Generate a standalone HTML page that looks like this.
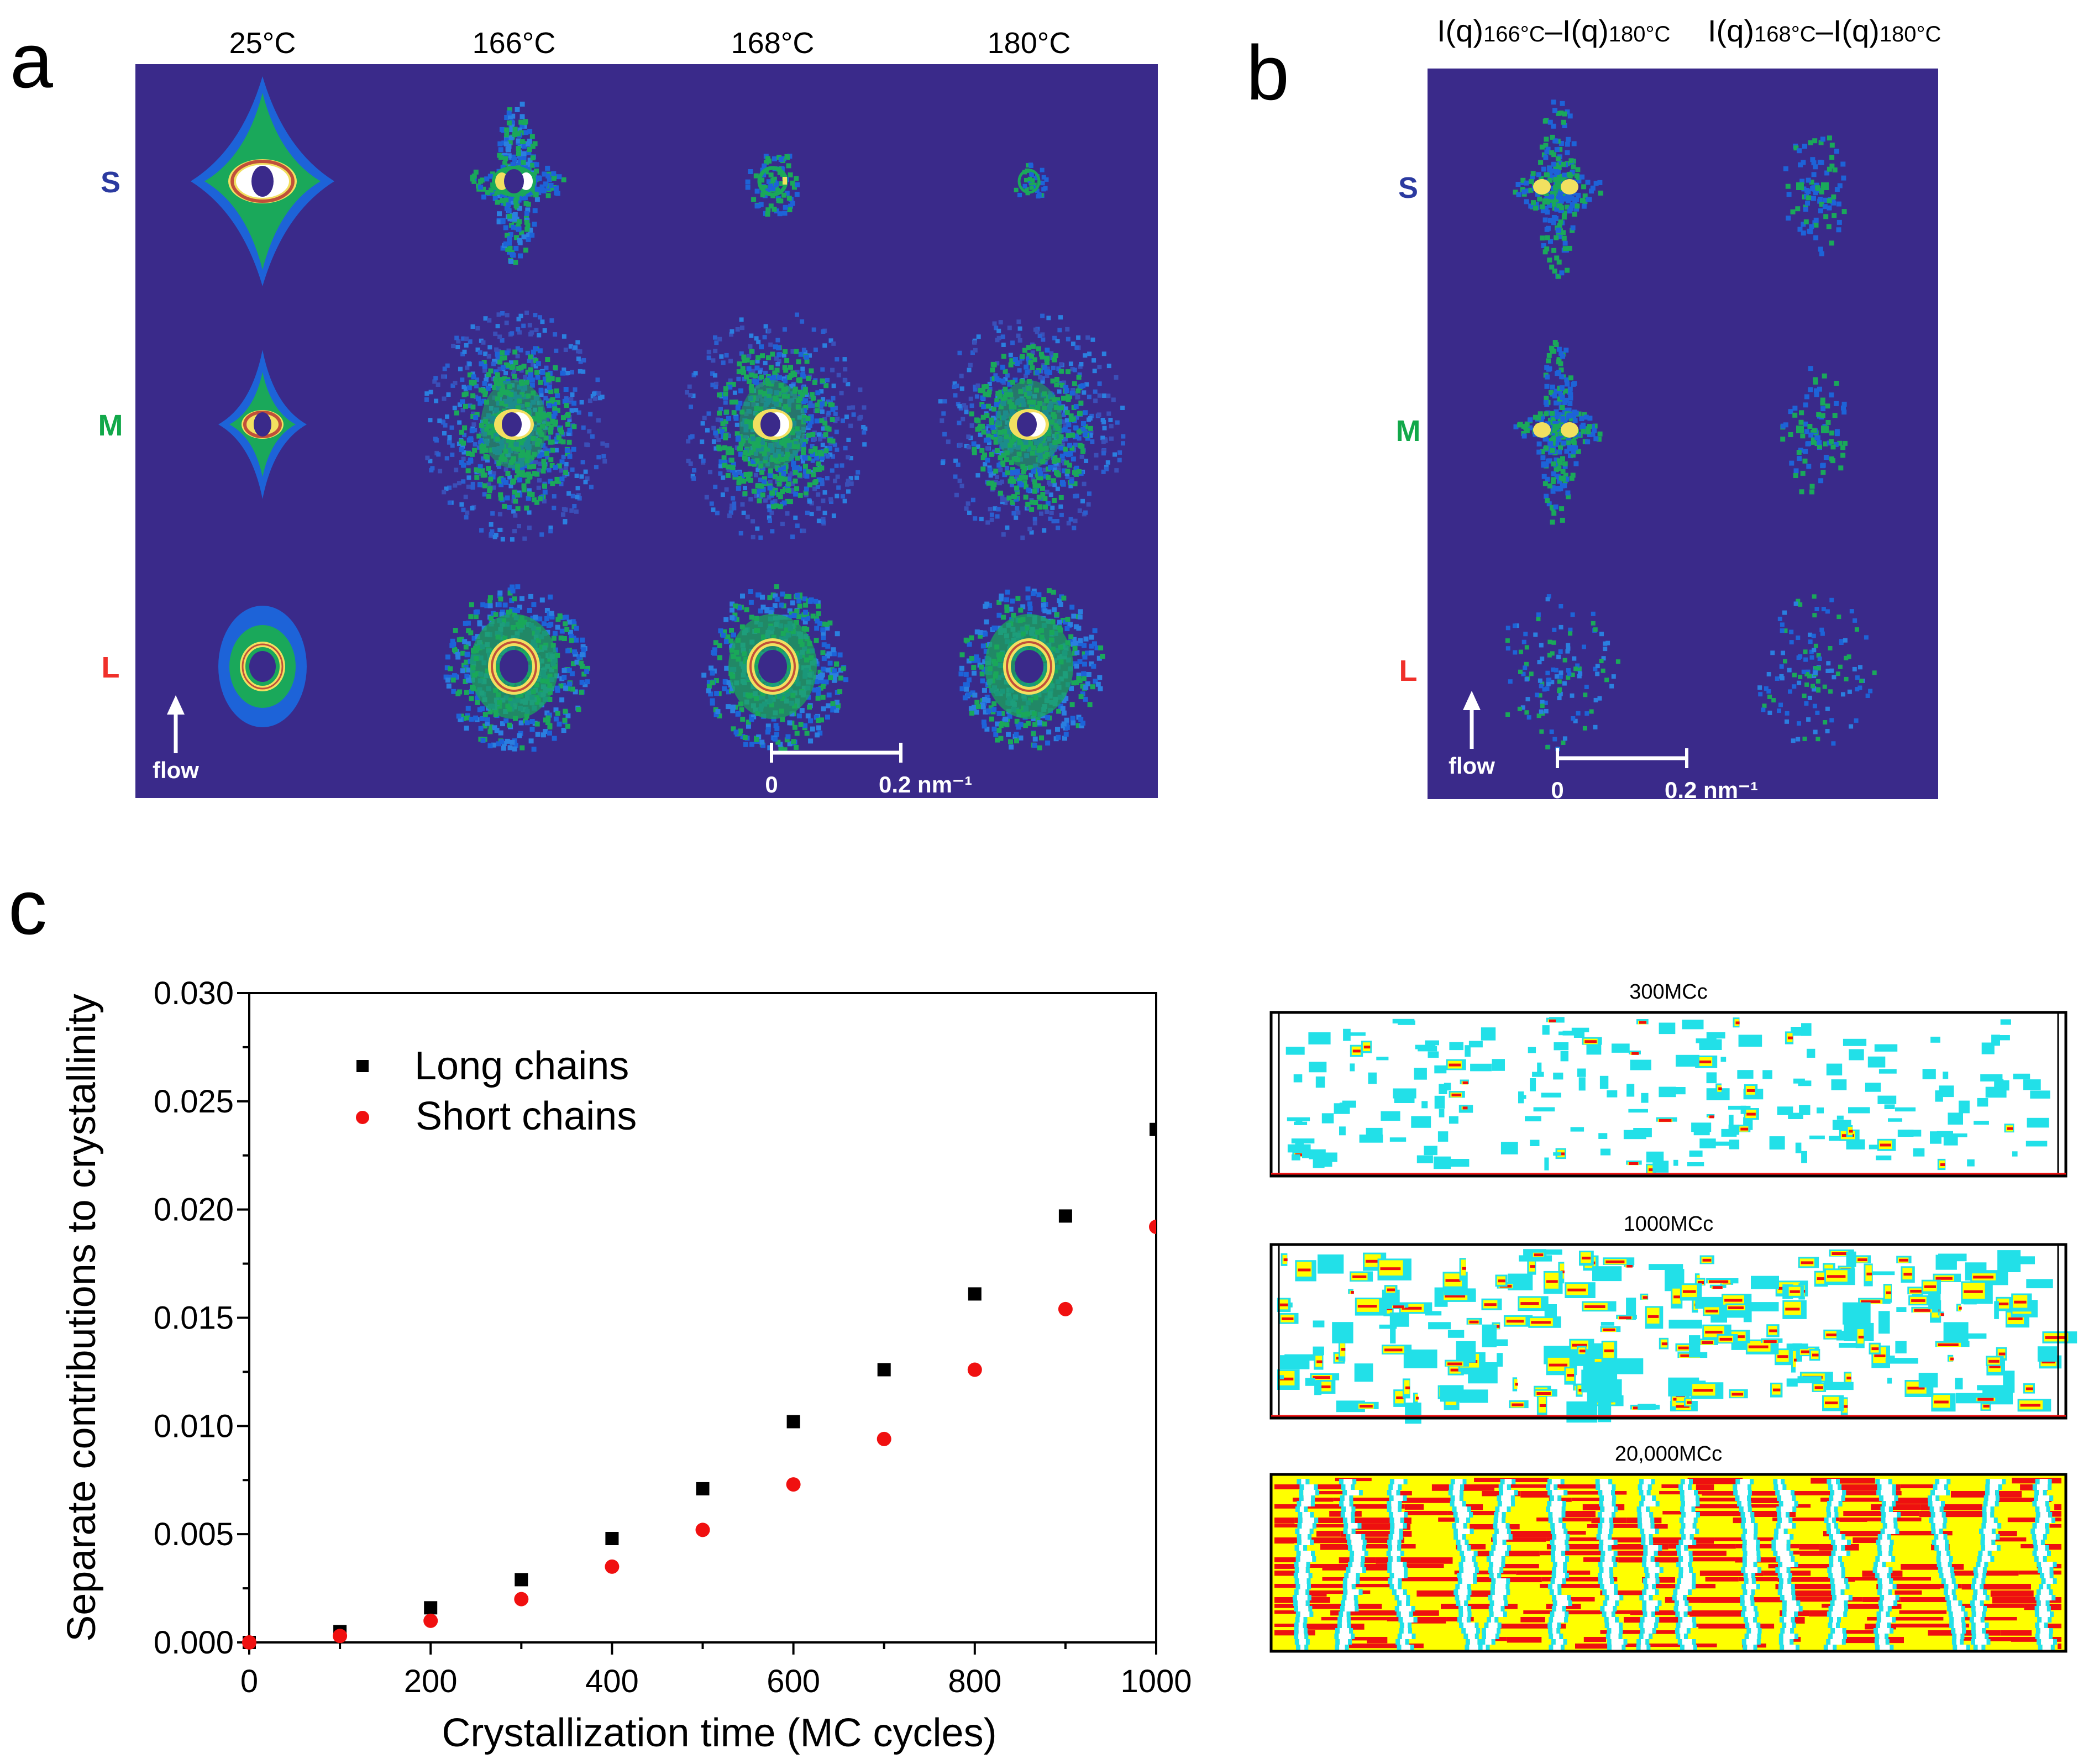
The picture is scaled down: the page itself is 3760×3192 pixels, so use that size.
<!DOCTYPE html>
<html><head><meta charset="utf-8">
<style>
html,body{margin:0;padding:0;background:#fff;}
body{width:3760px;height:3192px;position:relative;overflow:hidden;font-family:"Liberation Sans",Arial,sans-serif;}
svg{position:absolute;left:0;top:0;}
</style></head>
<body>
<svg id="fig" width="3760" height="3192" viewBox="0 0 3760 3192">
  <g id="panelA"></g>
  <g id="panelB"></g>
  <g id="chart"></g>
  <g id="sims"></g>
</svg>
<script>
// ---- chart data ----
const xValues = [0,100,200,300,400,500,600,700,800,900,1000];
const longChains = [0,0.0005,0.0016,0.0029,0.0048,0.0071,0.0102,0.0126,0.0161,0.0197,0.0237];
const shortChains = [0,0.0003,0.0010,0.0020,0.0035,0.0052,0.0073,0.0094,0.0126,0.0154,0.0192];
const xTicks = [0,200,400,600,800,1000];
const yTicks = [0,0.005,0.010,0.015,0.020,0.025,0.030];
const yTickLabels = ["0.000","0.005","0.010","0.015","0.020","0.025","0.030"];

const NS="http://www.w3.org/2000/svg";
function mk(tag,attrs,parent){const e=document.createElementNS(NS,tag);for(const k in attrs)e.setAttribute(k,attrs[k]);if(parent)parent.appendChild(e);return e;}
let seed=12345;function rnd(){seed=(seed*1103515245+12345)%2147483648;return seed/2147483648;}

const BG="#3a2a8a";
// ---------- Panel a ----------
const A=document.getElementById('panelA');
let r=mk('rect',{x:245,y:116,width:1850,height:1328,fill:BG},A);


let t=mk('text',{x:18,y:158,'font-size':140,fill:'#000'},A);t.textContent='a';


const colX=[475,930,1398,1862], colLab=['25°C','166°C','168°C','180°C'];
colLab.forEach((s,i)=>{const e=mk('text',{x:colX[i],y:96,'font-size':54,'text-anchor':'middle',fill:'#000'},A);e.textContent=s;

});
const rowY=[328,768,1206], rowLab=['S','M','L'], rowCol=['#2b3aa0','#12a84a','#f0302a'];
rowLab.forEach((s,i)=>{const e=mk('text',{x:200,y:rowY[i]+20,'font-size':54,'font-weight':'bold','text-anchor':'middle',fill:rowCol[i]},A);e.textContent=s;

});

function star(g,cx,cy,w,h,pinch,fill,op){
  const p=`M${cx},${cy-h} Q${cx+w*pinch},${cy-h*pinch} ${cx+w},${cy} Q${cx+w*pinch},${cy+h*pinch} ${cx},${cy+h} Q${cx-w*pinch},${cy+h*pinch} ${cx-w},${cy} Q${cx-w*pinch},${cy-h*pinch} ${cx},${cy-h}Z`;
  mk('path',{d:p,fill:fill,opacity:op||1},g);
}
function speckle(g,cx,cy,rx,ry,n,colors,px){
  for(let i=0;i<n;i++){const a=rnd()*Math.PI*2,d=Math.pow(rnd(),0.8);
    const x=cx+Math.cos(a)*rx*d, y=cy+Math.sin(a)*ry*d;
    mk('rect',{x:x.toFixed(1),y:y.toFixed(1),width:px,height:px,fill:colors[Math.floor(rnd()*colors.length)]},g);}
}
function ring(g,cx,cy,rx,ry,sw,col){mk('ellipse',{cx,cy,rx,ry,fill:'none',stroke:col,'stroke-width':sw},g);}
function hole(g,cx,cy,rx,ry){mk('ellipse',{cx,cy,rx,ry,fill:BG},g);}

function blob(parent,cx,cy,kind,name){
  const g=mk('g',{},parent);
  
  
  if(kind==='S25'){star(g,cx,cy,130,190,0.3,'#1d63d8');star(g,cx,cy,105,160,0.28,'#1aa85a');
    mk('ellipse',{cx,cy,rx:62,ry:40,fill:'#f2e060'},g);mk('ellipse',{cx,cy,rx:48,ry:30,fill:'#fff'},g);ring(g,cx,cy,55,36,6,'#c0503a');hole(g,cx,cy,20,28);}
  else if(kind==='M25'){star(g,cx,cy,80,135,0.25,'#1d63d8');star(g,cx,cy,60,95,0.25,'#1aa85a');
    mk('ellipse',{cx,cy,rx:38,ry:26,fill:'#f2e060'},g);ring(g,cx,cy,32,22,6,'#c0503a');hole(g,cx,cy,16,22);}
  else if(kind==='L25'){mk('ellipse',{cx,cy,rx:80,ry:110,fill:'#1d63d8'},g);mk('ellipse',{cx,cy,rx:60,ry:75,fill:'#1aa85a'},g);
    ring(g,cx,cy,36,40,10,'#f2e060');ring(g,cx,cy,36,40,3,'#c0503a');hole(g,cx,cy,24,28);}
  else if(kind==='Sx'){speckle(g,cx,cy,40,150,260,['#1d63d8','#2a7fe0','#1aa85a'],9);speckle(g,cx,cy,90,40,160,['#1d63d8','#1aa85a'],9);
    mk('ellipse',{cx,cy,rx:40,ry:28,fill:'#1aa85a'},g);mk('ellipse',{cx:cx-22,cy,rx:12,ry:16,fill:'#f2e060'},g);mk('ellipse',{cx:cx+22,cy,rx:12,ry:16,fill:'#fff'},g);hole(g,cx,cy,18,22);}
  else if(kind==='Ssm'){speckle(g,cx,cy,50,60,90,['#1d63d8','#1aa85a'],9);ring(g,cx,cy,24,24,7,'#1aa85a');mk('rect',{x:cx+18,y:cy-8,width:8,height:14,fill:'#f2e060'},g);}
  else if(kind==='Stiny'){speckle(g,cx,cy,30,35,40,['#1d63d8','#1aa85a'],8);ring(g,cx,cy,18,20,5,'#1aa85a');}
  else if(kind==='Mx'){speckle(g,cx,cy,170,210,500,['#2a5fd0','#2a7fe0','#3a4fb8'],8);speckle(g,cx,cy,110,150,500,['#1d63d8','#1aa85a','#1aa85a'],9);mk('ellipse',{cx,cy,rx:60,ry:80,fill:'#1aa85a',opacity:0.6},g);
    mk('ellipse',{cx,cy,rx:36,ry:28,fill:'#f2e060'},g);mk('ellipse',{cx:cx+8,cy,rx:22,ry:22,fill:'#fff'},g);hole(g,cx-4,cy,18,22);}
  else if(kind==='Lx'){speckle(g,cx,cy,130,150,600,['#1d63d8','#2a7fe0','#1aa85a'],9);mk('ellipse',{cx,cy,rx:80,ry:95,fill:'#1aa85a',opacity:0.75},g);
    ring(g,cx,cy,40,44,14,'#f2e060');ring(g,cx,cy,40,44,4,'#c0503a');hole(g,cx,cy,26,30);}
  else if(kind==='Bd'){speckle(g,cx,cy,35,170,200,['#1d63d8','#1aa85a'],9);speckle(g,cx,cy,80,40,120,['#1d63d8','#1aa85a'],9);
    mk('ellipse',{cx:cx-25,cy,rx:16,ry:14,fill:'#f2e060'},g);mk('ellipse',{cx:cx+25,cy,rx:16,ry:14,fill:'#f2e060'},g);}
  else if(kind==='Bsm'){speckle(g,cx,cy,60,120,90,['#1d63d8','#1aa85a'],9);mk('rect',{x:cx-30,y:cy-8,width:14,height:14,fill:'#1aa85a'},g);mk('rect',{x:cx+15,y:cy-8,width:14,height:14,fill:'#1aa85a'},g);}
  else if(kind==='BL'){speckle(g,cx,cy,110,140,130,['#1d63d8','#1aa85a','#2a7fe0'],8);}
}
const kinds=[['S25','Sx','Ssm','Stiny'],['M25','Mx','Mx','Mx'],['L25','Lx','Lx','Lx']];
for(let i=0;i<3;i++)for(let j=0;j<4;j++)blob(A,colX[j],rowY[i],kinds[i][j],'pattern-'+rowLab[i]+'-'+j);
function flow(parent,x,yTop,name){
  const g=mk('g',{},parent);
  
  
  mk('line',{x1:x,y1:yTop+20,x2:x,y2:yTop+105,stroke:'#fff','stroke-width':7},g);
  mk('path',{d:`M${x-16},${yTop+35} L${x},${yTop} L${x+16},${yTop+35}Z`,fill:'#fff'},g);
  const e=mk('text',{x:x,y:yTop+150,'font-size':42,'font-weight':'bold','text-anchor':'middle',fill:'#fff'},g);e.textContent='flow';
}
flow(A,318,1258,'flow-arrow-a');
function scalebar(parent,x1,x2,y,name){
  const g=mk('g',{},parent);
  
  
  mk('line',{x1,y1:y,x2,y2:y,stroke:'#fff','stroke-width':7},g);
  mk('line',{x1,y1:y-18,x2:x1,y2:y+18,stroke:'#fff','stroke-width':6},g);
  mk('line',{x1:x2,y1:y-18,x2:x2,y2:y+18,stroke:'#fff','stroke-width':6},g);
  let e=mk('text',{x:x1,y:y+72,'font-size':42,'font-weight':'bold','text-anchor':'middle',fill:'#fff'},g);e.textContent='0';
  e=mk('text',{x:x2-40,y:y+72,'font-size':42,'font-weight':'bold',fill:'#fff'},g);e.textContent='0.2 nm⁻¹';
}
scalebar(A,1396,1630,1362,'scale-bar-a');

// ---------- Panel b ----------
const B=document.getElementById('panelB');
r=mk('rect',{x:2583,y:124,width:924,height:1322,fill:BG},B);


t=mk('text',{x:2255,y:180,'font-size':140,fill:'#000'},B);t.textContent='b';


[['2600','I(q)','166°C','–I(q)','180°C'],['3090','I(q)','168°C','–I(q)','180°C']].forEach((a,i)=>{
  const e=mk('text',{x:a[0],y:75,'font-size':56,fill:'#000'},B);
  e.innerHTML=`${a[1]}<tspan font-size="40">${a[2]}</tspan>${a[3]}<tspan font-size="40">${a[4]}</tspan>`;
  
  
});
const bX=[2815,3280], bY=[338,778,1212];
rowLab.forEach((s,i)=>{const e=mk('text',{x:2548,y:bY[i]+20,'font-size':54,'font-weight':'bold','text-anchor':'middle',fill:rowCol[i]},B);e.textContent=s;

});
blob(B,bX[0],bY[0],'Bd','diff-S-166');blob(B,bX[1],bY[0],'Bsm','diff-S-168');
blob(B,bX[0],bY[1],'Bd','diff-M-166');blob(B,bX[1],bY[1],'Bsm','diff-M-168');
blob(B,bX[0],bY[2],'BL','diff-L-166');blob(B,bX[1],bY[2],'BL','diff-L-168');
flow(B,2663,1250,'flow-arrow-b');
scalebar(B,2818,3052,1372,'scale-bar-b');

// ---------- Panel c chart ----------
const C=document.getElementById('chart');
t=mk('text',{x:15,y:1690,'font-size':140,fill:'#000'},C);t.textContent='c';


const X0=451,X1=2092,Y0=2972,Y1=1797;
const xs=v=>X0+(v/1000)*(X1-X0);
const ys=v=>Y0-(v/0.030)*(Y0-Y1);
let fr=mk('rect',{x:X0,y:Y1,width:X1-X0,height:Y0-Y1,fill:'none',stroke:'#000','stroke-width':4},C);


for(let v=0;v<=1000;v+=100){const x=xs(v);const major=v%200===0;mk('line',{x1:x,y1:Y0,x2:x,y2:Y0+(major?22:12),stroke:'#000','stroke-width':4},C);}
xTicks.forEach(v=>{const e=mk('text',{x:xs(v),y:Y0+90,'font-size':58,'text-anchor':'middle',fill:'#000'},C);e.textContent=String(v);

});
for(let k=0;k<=12;k++){const v=k*0.0025;const y=ys(v);mk('line',{x1:X0,y1:y,x2:X0-(k%2===0?22:12),y2:y,stroke:'#000','stroke-width':4},C);}
yTicks.forEach((v,i)=>{const e=mk('text',{x:X0-28,y:ys(v)+20,'font-size':58,'text-anchor':'end',fill:'#000'},C);e.textContent=yTickLabels[i];

});
let xt=mk('text',{x:(X0+X1)/2+30,y:3160,'font-size':72,'text-anchor':'middle',fill:'#000'},C);xt.textContent='Crystallization time (MC cycles)';


let yt=mk('text',{x:0,y:0,'font-size':72,'text-anchor':'middle',fill:'#000',transform:`translate(172,${(Y0+Y1)/2}) rotate(-90)`},C);yt.textContent='Separate contributions to crystallinity';


const clip=mk('clipPath',{id:'pc'},C);mk('rect',{x:X0-20,y:Y1,width:X1-X0+20,height:Y0-Y1+20},clip);
const marks=mk('g',{'clip-path':'url(#pc)'},C);
xValues.forEach((xv,i)=>{
  const s=mk('rect',{x:xs(xv)-12,y:ys(longChains[i])-12,width:24,height:24,fill:'#000'},marks);
  
  
});
xValues.forEach((xv,i)=>{
  const c=mk('circle',{cx:xs(xv),cy:ys(shortChains[i]),r:13,fill:'#f01010'},marks);
  
  
});
const lg=mk('g',{},C);


mk('rect',{x:645,y:1918,width:22,height:22,fill:'#000'},lg);
let l1=mk('text',{x:750,y:1953,'font-size':72,fill:'#000'},lg);l1.textContent='Long chains';


mk('circle',{cx:656,cy:2022,r:12,fill:'#f01010'},lg);
let l2=mk('text',{x:752,y:2044,'font-size':72,fill:'#000'},lg);l2.textContent='Short chains';



// ---------- simulation snapshots ----------
const S=document.getElementById('sims');
const boxes=[{y:1832,h:296,lab:'300MCc',kind:0},{y:2252,h:314,lab:'1000MCc',kind:1},{y:2668,h:320,lab:'20,000MCc',kind:2}];
const BX0=2300,BW=1438;
boxes.forEach((b,bi)=>{
  const g=mk('g',{},S);
  
  
  const e=mk('text',{x:BX0+BW/2,y:b.y-25,'font-size':38,'text-anchor':'middle',fill:'#000'},g);e.textContent=b.lab;
  mk('rect',{x:BX0,y:b.y,width:BW,height:b.h,fill:b.kind===2?'#ffff00':'#fff'},g);
  if(b.kind===2){
    for(let y=b.y+6;y<b.y+b.h-6;y+=12){
      let x=BX0+6;
      while(x<BX0+BW-10){const w=30+rnd()*110;if(rnd()<0.5)mk('rect',{x:x.toFixed(1),y,width:Math.min(w,BX0+BW-8-x).toFixed(1),height:6+rnd()*6,fill:'#ee1010'},g);x+=w;}
    }
    for(let k=0;k<16;k++){let x=BX0+40+k*88+rnd()*30;for(let y=b.y+8;y<b.y+b.h-10;y+=10){x+=(rnd()-0.5)*10;
      const w=6+rnd()*16;
      mk('rect',{x:(x-8).toFixed(1),y,width:8,height:10,fill:'#22e0e8'},g);mk('rect',{x:x.toFixed(1),y,width:w.toFixed(1),height:10,fill:'#fff'},g);mk('rect',{x:(x+w).toFixed(1),y,width:7,height:10,fill:'#22e0e8'},g);}}
  } else {
    const n=b.kind===0?220:260;
    for(let i=0;i<n;i++){
      const x=BX0+10+rnd()*(BW-50), y=b.y+8+rnd()*(b.h-30);
      const w=8+rnd()*(b.kind===0?35:55), h=6+rnd()*(b.kind===0?18:36);
      mk('rect',{x:x.toFixed(1),y:y.toFixed(1),width:w.toFixed(1),height:h.toFixed(1),fill:'#22e0e8'},g);
      if(rnd()<(b.kind===0?0.12:0.6)){mk('rect',{x:(x+3).toFixed(1),y:(y+3).toFixed(1),width:(w*0.7).toFixed(1),height:(h*0.7).toFixed(1),fill:'#ffff00'},g);
        mk('rect',{x:(x+5).toFixed(1),y:(y+h*0.4).toFixed(1),width:(w*0.6).toFixed(1),height:5,fill:'#ee1010'},g);}
    }
  }
  mk('rect',{x:BX0,y:b.y,width:BW,height:b.h,fill:'none',stroke:'#000','stroke-width':5},g);
  if(b.kind<2){mk('line',{x1:BX0+14,y1:b.y,x2:BX0+14,y2:b.y+b.h,stroke:'#000','stroke-width':3},g);mk('line',{x1:BX0+BW-14,y1:b.y,x2:BX0+BW-14,y2:b.y+b.h,stroke:'#000','stroke-width':3},g);
    mk('line',{x1:BX0,y1:b.y+b.h-4,x2:BX0+BW,y2:b.y+b.h-4,stroke:'#ee1010','stroke-width':3},g);}
});
</script>
</body></html>
